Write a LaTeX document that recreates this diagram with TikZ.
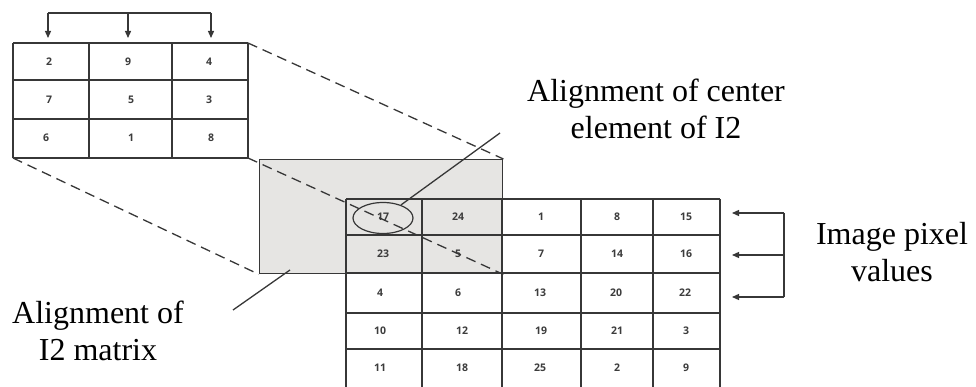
\documentclass[tikz,border=0pt]{standalone}
\usepackage{fontspec}
\setmainfont{Liberation Serif}
\newfontfamily\cellfont{Open Sans}
\usetikzlibrary{arrows.meta,shapes.geometric,positioning,calc}
\definecolor{gridline}{RGB}{55,55,55}
\definecolor{shade}{RGB}{230,229,227}
\definecolor{digit}{RGB}{60,60,60}

\begin{document}
\begin{tikzpicture}[x=1pt, y=-1pt,
    grid/.style={draw=gridline, line width=1.4pt},
    cellnum/.style={font=\cellfont\bfseries\fontsize{10.5}{11}\selectfont, text=digit, inner sep=0pt},
    caption/.style={font=\fontsize{32}{37}\selectfont, align=center, inner sep=0pt},
    proj/.style={draw=gridline, line width=1.3pt, dash pattern=on 10pt off 6pt},
    pointer/.style={draw=gridline, line width=1.3pt},
    feed/.style={draw=gridline, line width=1.3pt, -{Triangle[length=7pt,width=6pt]}}]

  \useasboundingbox (0,0) rectangle (976,387);
  \clip (0,0) rectangle (976,387);

  % Kernel I2 (3x3)
  \foreach \x in {13,89,172,248} \draw[grid] (\x,43) -- (\x,158);
  \foreach \y in {43,80,119,158} \draw[grid] (13,\y) -- (248,\y);
  \foreach \x/\v in {49/2,128/9,209/4} \node[cellnum] (s\v) at (\x,62) {\v};
  \foreach \x/\v in {49/7,131/5,209/3} \node[cellnum] (s\v) at (\x,100) {\v};
  \foreach \x/\v in {46/6,131/1,211/8} \node[cellnum] (s\v) at (\x,138) {\v};
  \coordinate (sTR) at (248,43);
  \coordinate (sBL) at (13,158);
  \coordinate (sBR) at (248,158);

  % Column feed arrows
  \coordinate (feedL) at (48,13);
  \coordinate (feedR) at (211,13);
  \draw[pointer] (feedL) -- (feedR);
  \foreach \x in {48,128,211} \draw[feed] (\x,13) -- (\x,38);

  % Shifted kernel window
  \node[draw=gridline, line width=1.4pt, fill=shade, minimum width=243pt,
        minimum height=114pt, inner sep=0pt, anchor=north west] (window) at (259,159) {};

  % Image (5x5)
  \foreach \x in {346,422,502,581,653,720} \draw[grid] (\x,199) -- (\x,395);
  \foreach \y in {199,235,273,313,349} \draw[grid] (346,\y) -- (720,\y);
  \foreach \x/\v in {383/17,458/24,541/1,617/8,686/15} \node[cellnum] (b\v) at (\x,217) {\v};
  \foreach \x/\v in {383/23,458/5,541/7,617/14,686/16} \node[cellnum] (b\v) at (\x,254) {\v};
  \foreach \x/\v in {380/4,458/6,540/13,616/20,685/22} \node[cellnum] (b\v) at (\x,293) {\v};
  \foreach \x/\v in {380/10,462/12,541/19,617/21,686/3} \node[cellnum] (b\v) at (\x,331) {\v};
  \foreach \x/\v in {380/11,462/18,540/25,617/2,686/9} \node[cellnum] (b\v) at (\x,368) {\v};

  % Projection of the kernel corners
  \draw[proj] (sTR) -- (window.north east);
  \draw[proj] (sBL) -- (window.south west);
  \draw[proj] (sBR) -- (window.south east);

  % Centre element
  \node[draw=gridline, line width=1.2pt, ellipse, minimum width=60pt,
        minimum height=31pt, inner sep=0pt] (centre) at (383,218) {};
  \coordinate (centretip) at (500,133);
  \draw[pointer] (centre) -- (centretip);

  \coordinate (winfoot) at (290,270);
  \coordinate (gridtip) at (233,310);
  \draw[pointer] (gridtip) -- (winfoot);

  % Row feed arrows
  \coordinate (rowT) at (784,213);
  \coordinate (rowB) at (784,297);
  \draw[pointer] (rowT) -- (rowB);
  \foreach \y in {213,255,297} \draw[feed] (784,\y) -- (732,\y);

  % Captions
  \node[caption] (centrecap) at (656,109) {Alignment of center\\element of I2};
  \node[caption] (pixelcap) at (892,252) {Image pixel\\values};
  \node[caption] (gridcap) at (98,331) {Alignment of\\I2 matrix};

\end{tikzpicture}
\end{document}
